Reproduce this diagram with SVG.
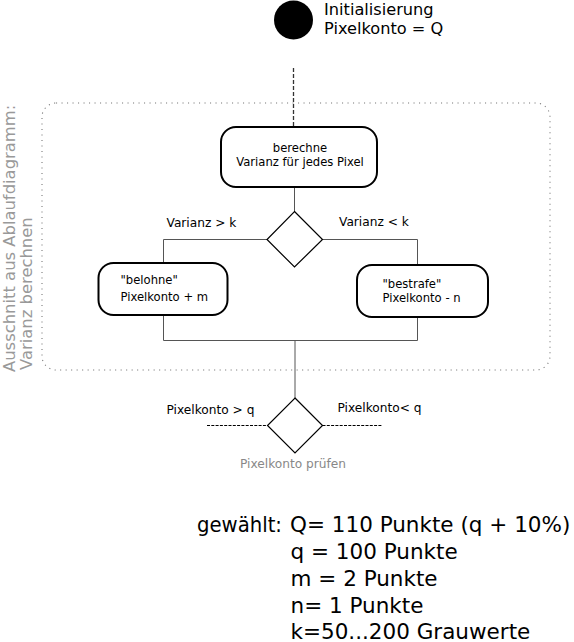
<svg xmlns="http://www.w3.org/2000/svg" width="574" height="642" viewBox="0 0 574 642">
<style>
text{font-family:"DejaVu Sans","Liberation Sans",sans-serif;fill:#000}
.box{fill:#fff;stroke:#000;stroke-width:2}
.dia{fill:#fff;stroke:#000;stroke-width:1.2}
.bt{font-size:11.6px}
.lb{font-size:12.2px}
.ln{fill:none;stroke:#555;stroke-width:1}
.gray{fill:#999}
</style>
<rect width="574" height="642" fill="#fff"/>
<g id="frame">
<rect x="42" y="103" width="508" height="267" rx="14" fill="none" stroke="#777" stroke-width="1.1" stroke-dasharray="1.1,4.4"/>
<text class="gray" font-size="16.4" transform="translate(15,372) rotate(-90)">Ausschnitt aus Ablaufdiagramm:</text>
<text class="gray" font-size="16.4" transform="translate(32,370) rotate(-90)">Varianz berechnen</text>
</g>
<g id="connectors">
<line x1="293.5" y1="68" x2="293.5" y2="127" stroke="#333" stroke-width="1.3" stroke-dasharray="4,2"/>
<line class="ln" x1="294.5" y1="187" x2="294.5" y2="211.5"/>
<polyline class="ln" points="267,239.5 163.5,239.5 163.5,263"/>
<polyline class="ln" points="322,239.5 417.5,239.5 417.5,265"/>
<polyline class="ln" points="163.5,315 163.5,340.5 417.5,340.5 417.5,317"/>
<line class="ln" x1="295" y1="340.5" x2="295" y2="398"/>
<line x1="207" y1="425.5" x2="267.5" y2="425.5" stroke="#000" stroke-width="1" stroke-dasharray="3,1.3"/>
<line x1="322.5" y1="425.5" x2="382.5" y2="425.5" stroke="#000" stroke-width="1" stroke-dasharray="3,1.3"/>
</g>
<g id="start">
<circle cx="293.5" cy="20" r="19.5" fill="#000"/>
<text font-size="16.2" x="324" y="15">Initialisierung</text>
<text font-size="16.2" x="324" y="34">Pixelkonto = Q</text>
</g>
<g id="berechne">
<rect class="box" x="221" y="127" width="156" height="60" rx="15"/>
<text class="bt" x="300" y="152" text-anchor="middle">berechne</text>
<text class="bt" x="300" y="166" text-anchor="middle">Varianz für jedes Pixel</text>
</g>
<g id="decision1">
<polygon class="dia" points="294.5,211.5 322.5,239.5 294.5,267 267,239.5"/>
<text class="lb" x="166.5" y="226.5">Varianz &gt; k</text>
<text class="lb" x="339" y="226">Varianz &lt; k</text>
</g>
<g id="belohne">
<rect class="box" x="98.5" y="263" width="129" height="52" rx="15"/>
<text class="bt" x="120.5" y="284">"belohne"</text>
<text class="bt" x="120.5" y="301">Pixelkonto + m</text>
</g>
<g id="bestrafe">
<rect class="box" x="357" y="265" width="131" height="52" rx="15"/>
<text class="bt" x="382.5" y="288">"bestrafe"</text>
<text class="bt" x="382.5" y="302">Pixelkonto - n</text>
</g>
<g id="decision2">
<polygon class="dia" points="295,398 322.5,425.5 295,453 267.5,425.5"/>
<text class="lb" x="166.5" y="414">Pixelkonto &gt; q</text>
<text class="lb" x="337.5" y="412">Pixelkonto&lt; q</text>
<text class="lb gray" x="240" y="467.5" style="fill:#888">Pixelkonto prüfen</text>
</g>
<g id="notes" font-size="21.5">
<text x="197" y="531.5" textLength="85" lengthAdjust="spacingAndGlyphs">gewählt:</text>
<text x="290" y="531.5">Q= 110 Punkte (q + 10%)</text>
<text x="290.5" y="558.5">q = 100 Punkte</text>
<text x="290.5" y="585.5">m = 2 Punkte</text>
<text x="290.5" y="612.5">n= 1 Punkte</text>
<text x="290.5" y="638.5">k=50...200 Grauwerte</text>
</g>
</svg>
